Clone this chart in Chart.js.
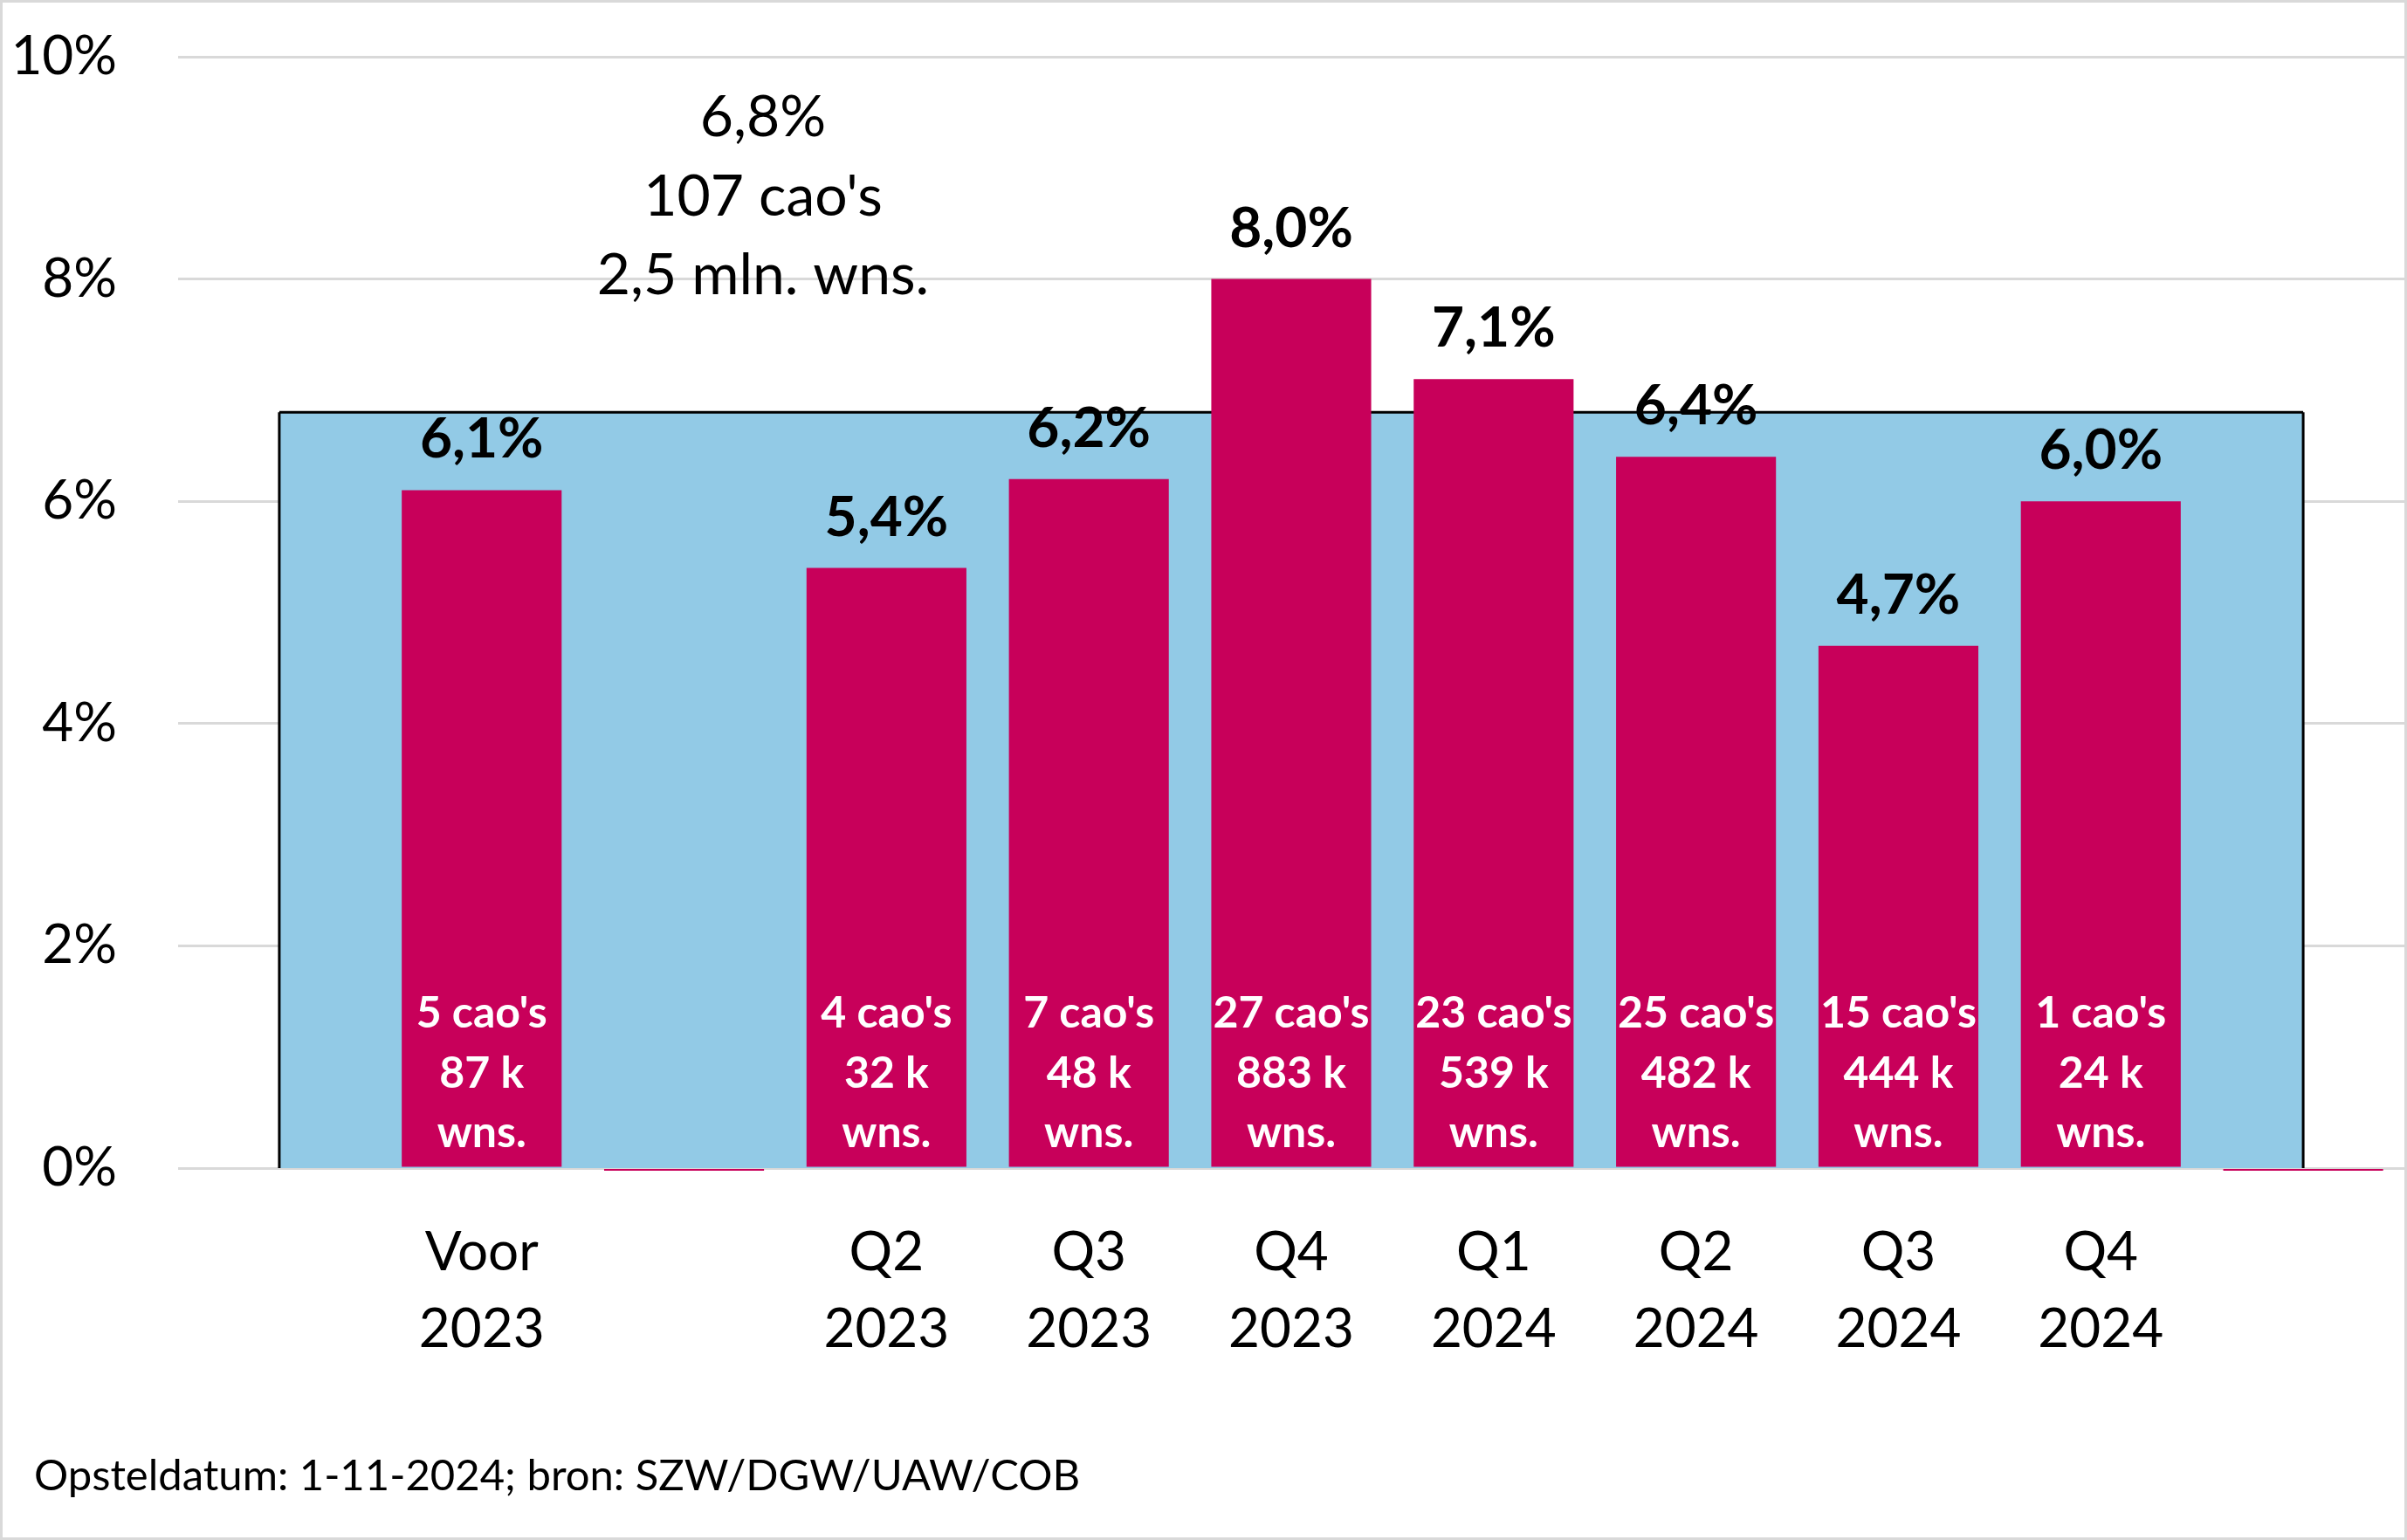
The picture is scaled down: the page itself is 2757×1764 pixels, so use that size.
<!DOCTYPE html>
<html>
<head>
<meta charset="utf-8">
<script src="https://cdn.jsdelivr.net/npm/chart.js@4.4.1/dist/chart.umd.min.js"></script>
<style>
body { margin: 0; background: #fff; }
#wrap { width: 2757px; height: 1764px; }
</style>
</head>
<body>
<div id="wrap"><canvas id="myChart"></canvas></div>
<script>
// categories (first and last slot are empty, the third is Q1 2023 without data)
var categories = ['', ['Voor', '2023'], '', ['Q2', '2023'], ['Q3', '2023'], ['Q4', '2023'],
    ['Q1', '2024'], ['Q2', '2024'], ['Q3', '2024'], ['Q4', '2024'], ''];
var increase = [null, 6.1, 0, 5.4, 6.2, 8.0, 7.1, 6.4, 4.7, 6.0, 0];
var caoCount = [null, 5, null, 4, 7, 27, 23, 25, 15, 1, null];
var workersK = [null, 87, null, 32, 48, 883, 539, 482, 444, 24, null];
var average = [6.8, 6.8, 6.8, 6.8, 6.8, 6.8, 6.8, 6.8, 6.8, 6.8, 6.8];
var averageText = ['6,8%', "107 cao's", '2,5 mln. wns.'];
var yTicks = [0, 2, 4, 6, 8, 10];
var footer = 'Opsteldatum: 1-11-2024; bron: SZW/DGW/UAW/COB';

var FONT = 'Lato, "Open Sans", sans-serif';
var MAGENTA = '#C8005A';
var BLUE = '#92CAE6';

function pct(v) {
    return v.toFixed(1).replace('.', ',') + '%';
}

var labelPlugin = {
    id: 'labelPlugin',
    afterDatasetDraw: function (chart, args) {
        if (args.index !== 0) return;
        // side edges of the average area
        var ctx = chart.ctx;
        var pts = args.meta.data;
        var base = chart.scales.y.getPixelForValue(0);
        var first = pts[0], last = pts[pts.length - 1];
        ctx.save();
        ctx.strokeStyle = '#000';
        ctx.lineWidth = 3;
        ctx.beginPath();
        ctx.moveTo(first.x, base);
        ctx.lineTo(first.x, first.y);
        ctx.moveTo(last.x, last.y);
        ctx.lineTo(last.x, base);
        ctx.stroke();
        ctx.restore();
    },
    afterDatasetsDraw: function (chart) {
        var ctx = chart.ctx;
        var meta = chart.getDatasetMeta(1);
        var x = chart.scales.x, y = chart.scales.y;
        ctx.save();
        ctx.textAlign = 'center';
        ctx.textBaseline = 'alphabetic';
        meta.data.forEach(function (bar, i) {
            var v = increase[i];
            if (v === null) return;
            if (v === 0) {
                ctx.fillStyle = MAGENTA;
                ctx.fillRect(bar.x - bar.width / 2, bar.base + 1, bar.width, 2);
                return;
            }
            ctx.fillStyle = '#000';
            ctx.font = 'bold 64px ' + FONT;
            ctx.fillText(pct(v), bar.x, bar.y - 37);
            ctx.fillStyle = '#fff';
            ctx.font = 'bold 50px ' + FONT;
            ctx.fillText(caoCount[i] + " cao's", bar.x, bar.base - 160);
            ctx.fillText(workersK[i] + ' k', bar.x, bar.base - 91);
            ctx.fillText('wns.', bar.x, bar.base - 23);
        });
        // text for the average area
        ctx.fillStyle = '#000';
        ctx.font = '66px ' + FONT;
        ctx.textBaseline = 'middle';
        var ax = x.getPixelForValue(2.39);
        ctx.fillText(averageText[0], ax, y.getPixelForValue(9.45));
        ctx.fillText(averageText[1], ax, y.getPixelForValue(8.74));
        ctx.fillText(averageText[2], ax, y.getPixelForValue(8.03));
        ctx.restore();
    },
    afterDraw: function (chart) {
        var ctx = chart.ctx;
        ctx.save();
        ctx.fillStyle = '#000';
        ctx.font = '49px ' + FONT;
        ctx.textAlign = 'left';
        ctx.textBaseline = 'middle';
        ctx.fillText(footer, 39, 1691);
        ctx.strokeStyle = '#d9d9d9';
        ctx.lineWidth = 3;
        ctx.strokeRect(1.5, 1.5, chart.width - 3, chart.height - 3);
        ctx.restore();
    }
};

var ctx = document.getElementById('myChart').getContext('2d');
var myChart = new Chart(ctx, {
    type: 'bar',
    data: {
        labels: categories,
        datasets: [{
            type: 'line',
            data: average,
            order: 2,
            fill: 'origin',
            backgroundColor: BLUE,
            borderColor: '#000',
            borderWidth: 3,
            pointRadius: 0,
            tension: 0
        }, {
            type: 'bar',
            data: increase,
            order: 1,
            backgroundColor: MAGENTA,
            barPercentage: 0.79,
            categoryPercentage: 1
        }]
    },
    options: {
        maintainAspectRatio: false,
        responsive: true,
        animation: false,
        layout: { padding: { left: 0, right: 3, top: 65, bottom: 0 } },
        plugins: {
            legend: { display: false },
            tooltip: { enabled: false }
        },
        scales: {
            x: {
                grid: { display: false, drawTicks: false },
                border: { display: false },
                ticks: {
                    color: '#000',
                    font: { family: FONT, size: 62, lineHeight: 1.42 },
                    padding: 53,
                    autoSkip: false,
                    maxRotation: 0
                },
                afterFit: function (scale) { scale.height = 426; }
            },
            y: {
                min: 0,
                max: 10,
                afterBuildTicks: function (scale) {
                    scale.ticks = yTicks.map(function (v) { return { value: v }; });
                },
                grid: { color: '#d9d9d9', lineWidth: 3, drawTicks: false },
                border: { display: false },
                ticks: {
                    color: '#000',
                    font: { family: FONT, size: 62 },
                    padding: 70,
                    callback: function (v) { return v + '%'; }
                },
                afterFit: function (scale) {
                    scale.width = 204;
                    scale.paddingTop = 0;
                    scale.paddingBottom = 0;
                }
            }
        }
    },
    plugins: [labelPlugin]
});
</script>
</body>
</html>
